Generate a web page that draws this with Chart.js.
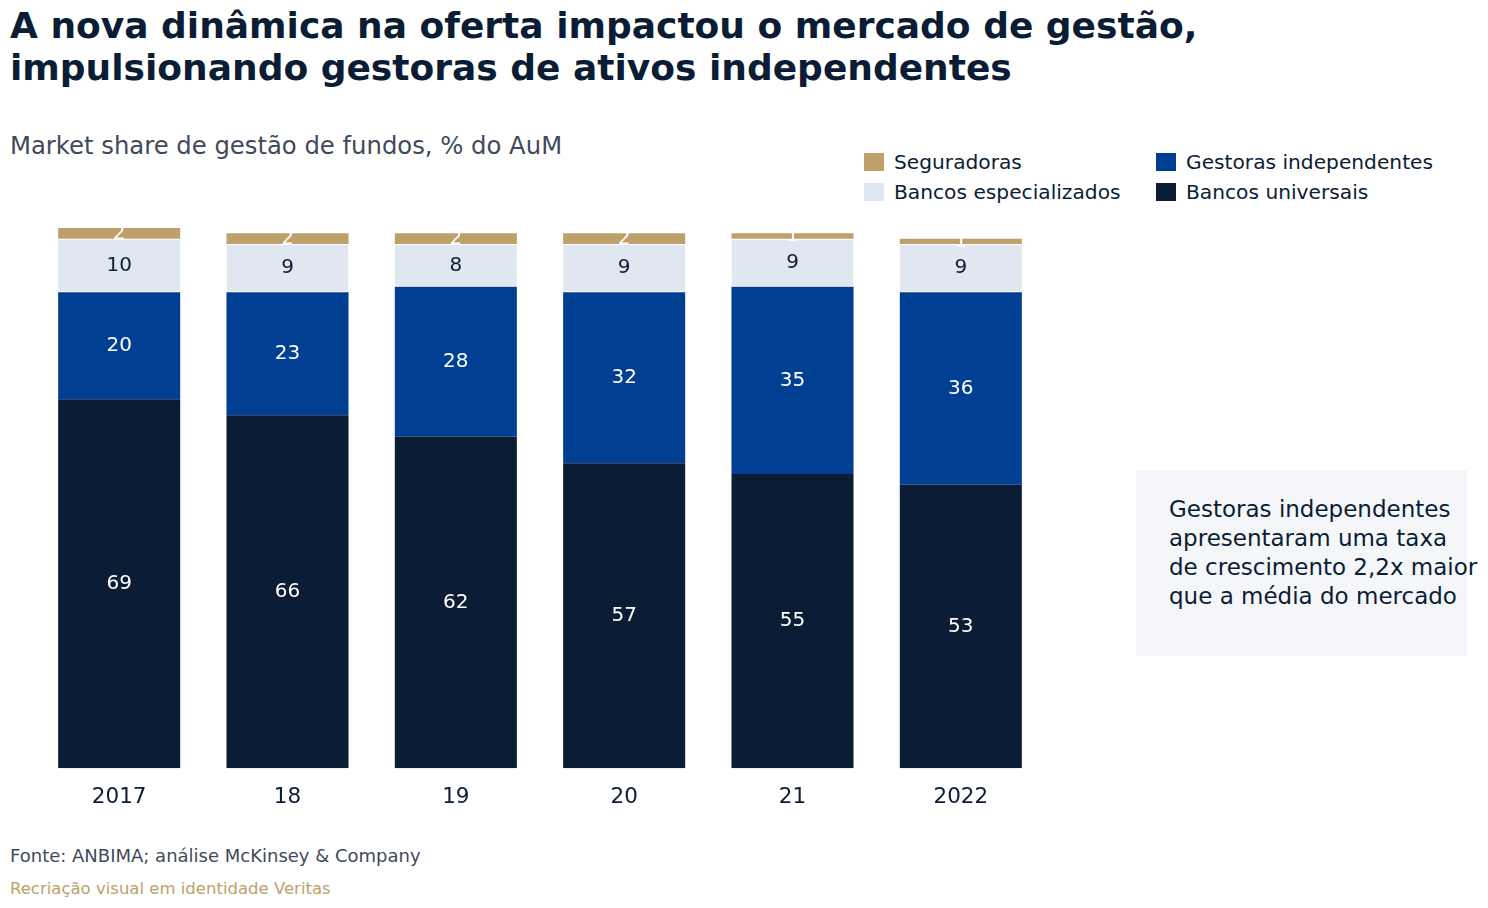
<!DOCTYPE html>
<html><head><meta charset="utf-8">
<script src="https://cdn.jsdelivr.net/npm/chart.js@4"></script>
<style>
body{margin:0;width:1488px;height:908px;background:#fff;font-family:"DejaVu Sans",sans-serif;position:relative;overflow:hidden}
.t{position:absolute;left:10px;top:5px;font-size:36px;font-weight:bold;color:#0b1d35;line-height:42px}
.s{position:absolute;left:10px;top:131px;font-size:24.3px;color:#3f4a5a}
.lg{position:absolute;font-size:20.2px;color:#0b1d35}
.sw{display:inline-block;width:20px;height:18px;vertical-align:-2px;margin-right:10px}
.box{position:absolute;left:1136px;top:470px;width:331px;height:186px;background:#f4f6fa}
.box div{position:absolute;left:33px;top:25px;font-size:23px;line-height:29px;color:#0b1d35;white-space:nowrap}
.f{position:absolute;left:10px;top:845px;font-size:18px;color:#3f4a5a}
.r{position:absolute;left:10px;top:879px;font-size:16.5px;color:#bea06a}
#w{position:absolute;left:35px;top:218px;width:1010px;height:600px}
</style></head><body>
<div class="t">A nova dinâmica na oferta impactou o mercado de gestão,<br>impulsionando gestoras de ativos independentes</div>
<div class="s">Market share de gestão de fundos, % do AuM</div>
<div class="lg" style="left:864px;top:150px"><span class="sw" style="background:#bea06a"></span>Seguradoras</div>
<div class="lg" style="left:864px;top:180px"><span class="sw" style="background:#e1e7f1"></span>Bancos especializados</div>
<div class="lg" style="left:1156px;top:150px"><span class="sw" style="background:#003f91"></span>Gestoras independentes</div>
<div class="lg" style="left:1156px;top:180px"><span class="sw" style="background:#0b1d35"></span>Bancos universais</div>
<div class="box"><div>Gestoras independentes<br>apresentaram uma taxa<br>de crescimento 2,2x maior<br>que a média do mercado</div></div>
<div class="f">Fonte: ANBIMA; análise McKinsey &amp; Company</div>
<div class="r">Recriação visual em identidade Veritas</div>
<div id="w"><canvas id="c"></canvas></div>
<script>
const categories=["2017","18","19","20","21","2022"];
const bancosUniversais=[69,66,62,57,55,53];
const gestorasIndependentes=[20,23,28,32,35,36];
const bancosEspecializados=[10,9,8,9,9,9];
const seguradoras=[2,2,2,2,1,1];
const labelPlugin={id:'lbl',afterDatasetsDraw(ch){const ctx=ch.ctx;ch.data.datasets.forEach((ds,i)=>{ch.getDatasetMeta(i).data.forEach((b,j)=>{ctx.save();ctx.font='20px "DejaVu Sans"';ctx.fillStyle=ds.lc;ctx.textAlign='center';ctx.textBaseline='middle';ctx.fillText(ds.data[j],b.x,(b.y+b.base)/2);ctx.restore();});});}};
const mk=(l,d,c,lc,bw)=>({label:l,data:d,backgroundColor:c,lc:lc,borderColor:'#fff',borderWidth:bw,borderSkipped:false,barPercentage:0.725,categoryPercentage:1});
new Chart(document.getElementById('c'),{type:'bar',
data:{labels:categories,datasets:[mk('Bancos universais',bancosUniversais,'#0b1d35','#fff',0),mk('Gestoras independentes',gestorasIndependentes,'#003f91','#fff',0),mk('Bancos especializados',bancosEspecializados,'#e1e7f1','#0b1d35',{top:1,bottom:1}),mk('Seguradoras',seguradoras,'#bea06a','#fff',0)]},
options:{responsive:true,maintainAspectRatio:false,animation:false,layout:{padding:{top:10,left:0,right:0,bottom:0}},
plugins:{legend:{display:false},tooltip:{enabled:false}},
scales:{x:{stacked:true,grid:{display:false},border:{display:false},ticks:{color:'#0b1d35',font:{size:21.5,family:'DejaVu Sans'},padding:8}},
y:{stacked:true,display:false,min:0,max:101}}},plugins:[labelPlugin]});
</script></body></html>
